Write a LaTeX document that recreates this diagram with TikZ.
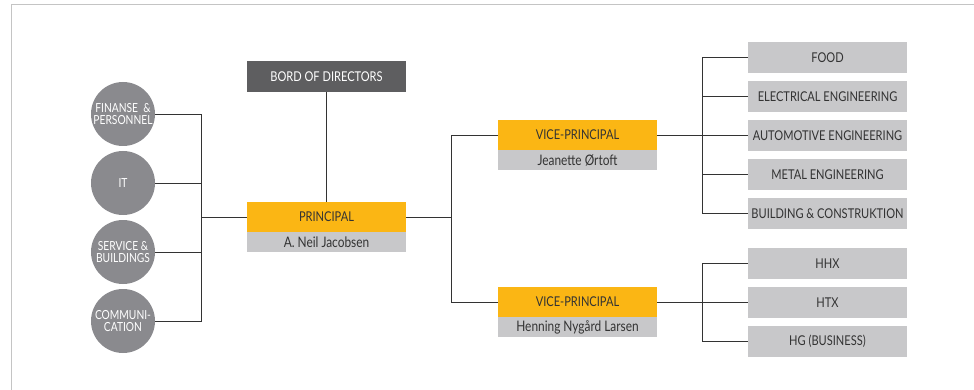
\documentclass[tikz,border=0pt]{standalone}
\usepackage{fontspec}
\setmainfont{Lato}[FakeStretch=0.82]
\definecolor{boardgray}{HTML}{5E5E60}
\definecolor{boxgray}{HTML}{C8C8CA}
\definecolor{circgray}{HTML}{8A8A8E}
\definecolor{leadyellow}{HTML}{FBB614}
\definecolor{linegray}{HTML}{333333}
\definecolor{framegray}{HTML}{C4C4C4}
\definecolor{textgray}{HTML}{333333}
\tikzset{
  leadbox/.style={rectangle, minimum width=159pt, minimum height=30pt, inner sep=0pt,
    fill=leadyellow, text=textgray, font=\fontsize{13.5}{14}\selectfont},
  namebox/.style={rectangle, minimum width=159pt, minimum height=20pt, inner sep=0pt,
    fill=boxgray, text=textgray, font=\fontsize{14.5}{15}\selectfont},
  deptbox/.style={rectangle, minimum width=159pt, minimum height=31pt, inner sep=0pt,
    fill=boxgray, text=textgray, font=\fontsize{13.5}{14}\selectfont},
  staffcirc/.style={circle, minimum size=64pt, inner sep=0pt, fill=circgray, text=white,
    align=center, font=\fontsize{12.5}{12}\selectfont},
  link/.style={draw=linegray, line width=0.8pt}
}
\begin{document}
\begin{tikzpicture}[x=1pt, y=-1pt]
	\useasboundingbox (0,0) rectangle (974,390);
	\draw [framegray, line width=1pt] (11,390) -- (11,5) -- (974,5);
	% board and principal
	\node [deptbox, fill=boardgray, text=white] (board) at (326.5,76.5) {BORD OF DIRECTORS};
	\node [leadbox] (pri) at (326.5,217) {PRINCIPAL};
	\node [namebox, anchor=north] (pri-n) at (pri.south) {A. Neil Jacobsen};
	\draw [link] (board) -- (pri);
	% staff functions
	\node [staffcirc] (c1) at (123,114) {FINANSE\ \ \&\\PERSONNEL};
	\node [staffcirc] (c2) at (123,183) {IT};
	\node [staffcirc] (c3) at (123,252) {SERVICE \&\\BUILDINGS};
	\node [staffcirc] (c4) at (123,321) {COMMUNI-\\CATION};
	\coordinate (lbus) at (201,217);
	\foreach \i in {1,...,4}
	\draw [link] (c\i.east) -| (lbus);
	\draw [link] (lbus) -- (pri.west);
	% vice-principals
	\node [leadbox] (vp1) at (577.5,135) {VICE-PRINCIPAL};
	\node [namebox, anchor=north] (vp1-n) at (vp1.south) {Jeanette Ørtoft};
	\node [leadbox] (vp2) at (577.5,302) {VICE-PRINCIPAL};
	\node [namebox, anchor=north] (vp2-n) at (vp2.south) {Henning Nygård Larsen};
	\coordinate (mbus) at (451,217);
	\draw [link] (pri.east) -- (mbus);
	\draw [link] (mbus) |- (vp1.west);
	\draw [link] (mbus) |- (vp2.west);
	% departments
	\foreach \lab [count=\i] in {FOOD, ELECTRICAL ENGINEERING, AUTOMOTIVE ENGINEERING,
	  METAL ENGINEERING, BUILDING \& CONSTRUKTION}
	\node [deptbox] (d\i) at (827.5,{57.5+39*(\i-1)}) {\lab};
	\foreach \lab [count=\i] in {HHX, HTX, HG (BUSINESS)}
	\node [deptbox] (e\i) at (827.5,{263.5+39*(\i-1)}) {\lab};
	\coordinate (r1) at (702,135);
	\coordinate (r2) at (702,302);
	\draw [link] (vp1.east) -- (r1);
	\draw [link] (vp2.east) -- (r2);
	\foreach \i in {1,...,5}
	\draw [link] (r1) |- (d\i.west);
	\foreach \i in {1,...,3}
	\draw [link] (r2) |- (e\i.west);
\end{tikzpicture}
\end{document}
